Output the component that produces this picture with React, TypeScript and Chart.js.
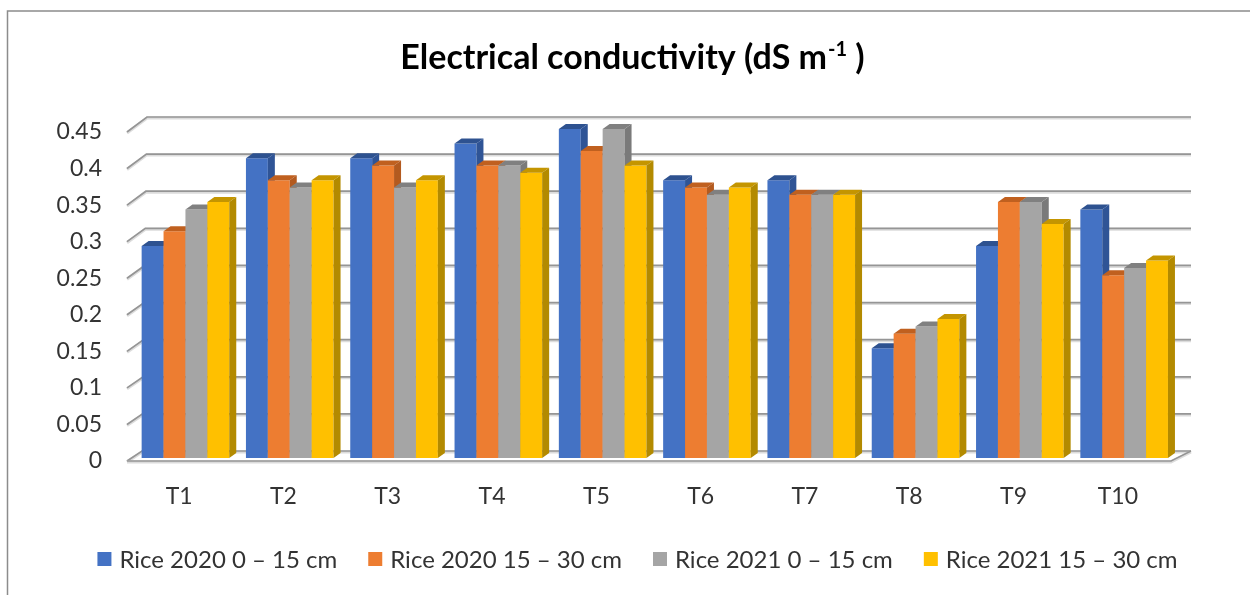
import React, { useEffect, useRef } from "react";
import { Chart, registerables } from "chart.js";

Chart.register(...registerables);

const categories = ["T1", "T2", "T3", "T4", "T5", "T6", "T7", "T8", "T9", "T10"];
const rice2020Depth0to15 = [0.29, 0.41, 0.41, 0.43, 0.45, 0.38, 0.38, 0.15, 0.29, 0.34];
const rice2020Depth15to30 = [0.31, 0.38, 0.4, 0.4, 0.42, 0.37, 0.36, 0.17, 0.35, 0.25];
const rice2021Depth0to15 = [0.34, 0.37, 0.37, 0.4, 0.45, 0.36, 0.36, 0.18, 0.35, 0.26];
const rice2021Depth15to30 = [0.35, 0.38, 0.38, 0.39, 0.4, 0.37, 0.36, 0.19, 0.32, 0.27];
const seriesLabels = [
  "Rice 2020 0 – 15 cm",
  "Rice 2020 15 – 30 cm",
  "Rice 2021 0 – 15 cm",
  "Rice 2021 15 – 30 cm",
];
const yTickValues = [0, 0.05, 0.1, 0.15, 0.2, 0.25, 0.3, 0.35, 0.4, 0.45];
const yTickLabels = ["0", "0.05", "0.1", "0.15", "0.2", "0.25", "0.3", "0.35", "0.4", "0.45"];

const TITLE_MAIN = "Electrical conductivity (dS m";
const TITLE_SUP = "-1";
const TITLE_END = " )";

const seriesColors = ["#4472C4", "#ED7D31", "#A5A5A5", "#FFC000"];
const sideColors = ["#2F5496", "#B35A1F", "#7A7A7A", "#B38A00"];
const topColors = ["#2E5290", "#C0601F", "#808080", "#C49500"];

const W = 1250;
const H = 595;
const FONT = "Lato, 'Open Sans', sans-serif";
const TEXT_COLOR = "#333333";
const BAR_SHIFT_X = 6.3;
const BAR_SHIFT_Y = -3;
const BAR_DX = 7;
const BAR_DY = -5;

function strokePath(ctx: CanvasRenderingContext2D, pts: number[][]) {
  ctx.beginPath();
  ctx.moveTo(pts[0][0], pts[0][1]);
  for (let i = 1; i < pts.length; i++) ctx.lineTo(pts[i][0], pts[i][1]);
  ctx.stroke();
}

function fillPoly(ctx: CanvasRenderingContext2D, pts: number[][], color: string) {
  ctx.beginPath();
  ctx.moveTo(pts[0][0], pts[0][1]);
  for (let i = 1; i < pts.length; i++) ctx.lineTo(pts[i][0], pts[i][1]);
  ctx.closePath();
  ctx.fillStyle = color;
  ctx.fill();
}

const excel3d = {
  id: "excel3d",
  beforeDraw(chart: any) {
    const { ctx, chartArea, scales } = chart;
    const y = scales.y;
    ctx.save();
    ctx.fillStyle = "#ffffff";
    ctx.fillRect(0, 0, W, H);

    // chart border (top and left visible)
    ctx.strokeStyle = "#8c8c8c";
    ctx.lineWidth = 1.5;
    strokePath(ctx, [[7.5, H], [7.5, 11], [W, 11]]);

    // title with superscript
    ctx.fillStyle = "#000000";
    ctx.textBaseline = "alphabetic";
    const mainFont = `bold 34px ${FONT}`;
    const supFont = `bold 20px ${FONT}`;
    ctx.font = mainFont;
    const w1 = ctx.measureText(TITLE_MAIN).width;
    const w3 = ctx.measureText(TITLE_END).width;
    ctx.font = supFont;
    const w2 = ctx.measureText(TITLE_SUP).width;
    const total = w1 + w2 + w3;
    let tx = 632 - total / 2;
    const base = 69;
    ctx.font = mainFont;
    ctx.textAlign = "left";
    ctx.fillText(TITLE_MAIN, tx, base);
    tx += w1 + 1;
    ctx.font = supFont;
    ctx.fillText(TITLE_SUP, tx, base - 13);
    tx += w2;
    ctx.font = mainFont;
    ctx.fillText(TITLE_END, tx, base);

    // back wall grid lines with left diagonals
    const left = chartArea.left;
    const right = chartArea.right;
    const backRight = right + 21;
    const maxV = yTickValues[yTickValues.length - 1];
    const off = (v: number) => {
      const t = v / maxV;
      return { dx: 15 + 5 * t, dy: -10 - 5 * t };
    };
    const drawGrid = (pts: number[][]) => {
      ctx.strokeStyle = "#dcdcdc";
      ctx.lineWidth = 3;
      strokePath(ctx, pts.map((p) => [p[0], p[1] + 1]));
      ctx.strokeStyle = "#959595";
      ctx.lineWidth = 1.7;
      strokePath(ctx, pts);
    };
    for (const v of yTickValues) {
      const yf = y.getPixelForValue(v);
      const { dx, dy } = off(v);
      drawGrid([[left, yf], [left + dx, yf + dy], [backRight, yf + dy]]);
    }
    // floor front edge and right diagonal
    const y0 = y.getPixelForValue(0);
    const o0 = off(0);
    drawGrid([[left, y0], [right + 1, y0], [backRight, y0 + o0.dy]]);

    // legend
    ctx.font = `24px ${FONT}`;
    ctx.textBaseline = "middle";
    const box = 14;
    const gapBoxText = 8;
    const gapItems = 31;
    const widths = seriesLabels.map((l) => ctx.measureText(l).width);
    let totalW = 0;
    widths.forEach((w, i) => {
      totalW += box + gapBoxText + w + (i < widths.length - 1 ? gapItems : 0);
    });
    let lx = 637.5 - totalW / 2;
    const ly = 559;
    seriesLabels.forEach((label, i) => {
      ctx.fillStyle = seriesColors[i];
      ctx.fillRect(lx, ly - box / 2, box, box);
      ctx.fillStyle = TEXT_COLOR;
      ctx.fillText(label, lx + box + gapBoxText, ly + 1);
      lx += box + gapBoxText + widths[i] + gapItems;
    });
    ctx.restore();
  },
  afterDatasetsDraw(chart: any) {
    // Redraw every bar left-to-right with its 3D faces so that each bar's
    // front face hides the side face of its left neighbour.
    const ctx = chart.ctx;
    ctx.save();
    ctx.translate(BAR_SHIFT_X, BAR_SHIFT_Y);
    const n = chart.data.datasets.length;
    for (let i = 0; i < n; i++) {
      const meta = chart.getDatasetMeta(i);
      for (const el of meta.data) {
        const { x, y, base, width } = el.getProps(["x", "y", "base", "width"], true);
        const l = x - width / 2;
        const r = x + width / 2;
        fillPoly(ctx, [[l, y], [r, y], [r, base], [l, base]], seriesColors[i]);
        fillPoly(ctx, [[l, y], [l + BAR_DX, y + BAR_DY], [r + BAR_DX, y + BAR_DY], [r, y]], topColors[i]);
        fillPoly(ctx, [[r, y], [r + BAR_DX, y + BAR_DY], [r + BAR_DX, base + BAR_DY], [r, base]], sideColors[i]);
      }
    }
    ctx.restore();
  },
};

export default function App() {
  const canvasRef = useRef<HTMLCanvasElement | null>(null);

  useEffect(() => {
    if (!canvasRef.current) return;
    const seriesData = [rice2020Depth0to15, rice2020Depth15to30, rice2021Depth0to15, rice2021Depth15to30];
    const chart = new Chart(canvasRef.current, {
      type: "bar",
      data: {
        labels: categories,
        datasets: seriesData.map((d, i) => ({
          label: seriesLabels[i],
          data: d,
          backgroundColor: "rgba(0,0,0,0)",
          borderWidth: 0,
          categoryPercentage: 0.84,
          barPercentage: 1,
        })),
      },
      options: {
        responsive: false,
        animation: false,
        layout: { padding: { top: 132, left: 25, right: 0, bottom: 0 } },
        plugins: {
          legend: { display: false },
          title: { display: false },
          tooltip: { enabled: false },
        },
        scales: {
          x: {
            grid: { display: false, drawTicks: false },
            border: { display: false },
            ticks: {
              font: { family: FONT, size: 23 },
              color: TEXT_COLOR,
              padding: 22,
              maxRotation: 0,
              autoSkip: false,
            },
            afterFit: (s: any) => {
              s.height = H - 461;
            },
          },
          y: {
            min: 0,
            max: 0.45,
            afterBuildTicks: (s: any) => {
              s.ticks = yTickValues.map((v) => ({ value: v }));
            },
            grid: { display: false, drawTicks: false },
            border: { display: false },
            ticks: {
              font: { family: FONT, size: 23 },
              color: TEXT_COLOR,
              padding: 25,
              callback: (v: any) => {
                const idx = yTickValues.findIndex((t) => Math.abs(t - Number(v)) < 1e-9);
                return idx >= 0 ? yTickLabels[idx] : "";
              },
            },
            afterFit: (s: any) => {
              s.width = 102;
            },
          },
          yR: {
            type: "linear",
            position: "right",
            display: true,
            grid: { display: false, drawTicks: false },
            border: { display: false },
            ticks: { display: false },
            afterFit: (s: any) => {
              s.width = 80;
            },
          },
        },
      } as any,
      plugins: [excel3d],
    });
    return () => chart.destroy();
  }, []);

  return (
    <div style={{ position: "fixed", left: 0, top: 0, width: W, height: H, background: "#fff" }}>
      <canvas ref={canvasRef} width={W} height={H} style={{ width: W, height: H, display: "block" }} />
    </div>
  );
}
